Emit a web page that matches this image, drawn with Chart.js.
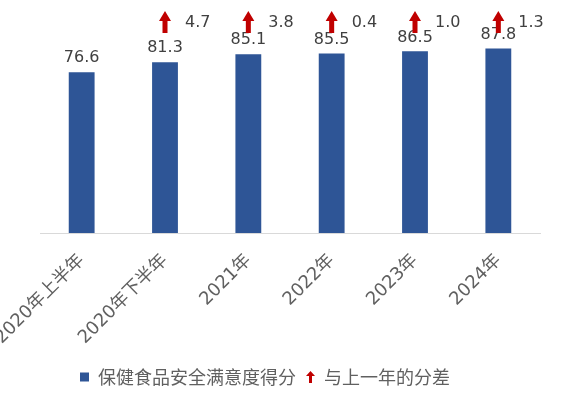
<!DOCTYPE html>
<html><head><meta charset="utf-8">
<script src="https://cdn.jsdelivr.net/npm/chart.js@4/dist/chart.umd.min.js"></script>
<style>html,body{margin:0;padding:0;background:#fff}#wrap{width:573px;height:396px}</style>
</head><body><div id="wrap"><canvas id="c" width="573" height="396"></canvas></div>
<script>
const categories = ['2020年上半年','2020年下半年','2021年','2022年','2023年','2024年'];
const scores = [76.6, 81.3, 85.1, 85.5, 86.5, 87.8];
const diffs = [null, 4.7, 3.8, 0.4, 1.0, 1.3];
const seriesNames = ['保健食品安全满意度得分','与上一年的分差'];
const yRange = [0, 100];

const BAR_COLOR = '#2E5596';
const ARROW_COLOR = '#C00000';
const TEXT_DARK = '#404040';
const TEXT_GRAY = '#606060';

function drawArrowPath(g, cx, top, w, h, headH, shaftW) {
  g.beginPath();
  g.moveTo(cx, top);
  g.lineTo(cx + w / 2, top + headH);
  g.lineTo(cx + shaftW / 2, top + headH);
  g.lineTo(cx + shaftW / 2, top + h);
  g.lineTo(cx - shaftW / 2, top + h);
  g.lineTo(cx - shaftW / 2, top + headH);
  g.lineTo(cx - w / 2, top + headH);
  g.closePath();
}
function makeArrow(w, h, headH, shaftW, color) {
  const c = document.createElement('canvas');
  c.width = w; c.height = h;
  const g = c.getContext('2d');
  drawArrowPath(g, w / 2, 0, w, h, headH, shaftW);
  g.fillStyle = color; g.fill();
  return c;
}
const legendArrow = makeArrow(9, 12, 5, 3, ARROW_COLOR);

const annotPlugin = {
  id: 'annot',
  afterLayout(chart) {
    const lg = chart.legend;
    if (lg) { lg.left -= 25; lg.right -= 25; }
  },
  afterDatasetsDraw(chart) {
    const ctx = chart.ctx;
    const meta = chart.getDatasetMeta(0);
    ctx.save();
    ctx.font = '16px "DejaVu Sans"';
    ctx.fillStyle = TEXT_DARK;
    ctx.textAlign = 'center';
    ctx.textBaseline = 'middle';
    meta.data.forEach((el, i) => {
      ctx.fillText(scores[i].toFixed(1), el.x, el.y - 14);
    });
    const top = chart.chartArea.top;
    meta.data.forEach((el, i) => {
      if (diffs[i] == null) return;
      drawArrowPath(ctx, el.x, top - 12, 12, 22, 10, 5);
      ctx.fillStyle = ARROW_COLOR;
      ctx.fill();
      ctx.fillStyle = TEXT_DARK;
      ctx.textAlign = 'left';
      ctx.fillText(diffs[i].toFixed(1), el.x + 20, top);
    });
    ctx.restore();
  }
};

new Chart(document.getElementById('c'), {
  type: 'bar',
  data: {
    labels: categories,
    datasets: [{
      label: seriesNames[0],
      data: scores,
      backgroundColor: BAR_COLOR,
      borderWidth: 0,
      categoryPercentage: 1,
      barPercentage: 0.31
    }]
  },
  options: {
    responsive: false,
    animation: false,
    devicePixelRatio: 1,
    layout: { padding: { top: 23, left: 40, right: 33, bottom: 0 } },
    scales: {
      x: {
        grid: { display: false, drawTicks: false },
        border: { display: true, color: '#D9D9D9', width: 1 },
        ticks: {
          autoSkip: false, minRotation: 45, maxRotation: 45, padding: 17,
          color: TEXT_GRAY,
          font: { family: '"DejaVu Sans", "Noto Sans CJK SC"', size: 18 }
        },
        afterFit(scale) { scale.paddingLeft = 0; scale.paddingRight = 0; scale.height = 125; }
      },
      y: { display: false, min: yRange[0], max: yRange[1] }
    },
    plugins: {
      tooltip: { enabled: false },
      legend: {
        position: 'bottom',
        labels: {
          usePointStyle: true,
          boxWidth: 9, boxHeight: 9, padding: 10,
          color: TEXT_GRAY,
          font: { family: '"Noto Sans CJK SC"', size: 18 },
          generateLabels: () => [
            { text: seriesNames[0], fillStyle: BAR_COLOR, strokeStyle: BAR_COLOR, lineWidth: 0, pointStyle: 'rect', fontColor: TEXT_GRAY, hidden: false },
            { text: seriesNames[1], fillStyle: ARROW_COLOR, strokeStyle: ARROW_COLOR, lineWidth: 0, pointStyle: legendArrow, fontColor: TEXT_GRAY, hidden: false }
          ]
        }
      }
    }
  },
  plugins: [annotPlugin]
});
</script>
</body></html>
